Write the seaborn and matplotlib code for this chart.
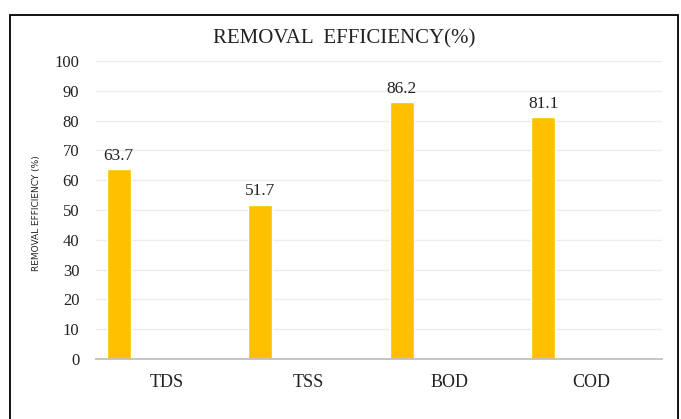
import matplotlib
matplotlib.use("Agg")
import matplotlib.pyplot as plt
from matplotlib.patches import Rectangle
import pandas as pd
import seaborn as sns

PARAMETERS = ["TDS", "TSS", "BOD", "COD"]
EFFICIENCY = [63.7, 51.7, 86.2, 81.1]
Y_TICKS = [0, 10, 20, 30, 40, 50, 60, 70, 80, 90, 100]

BAR_COLOR = "#FFC000"

sns.set_style("white")
plt.rcParams['font.family'] = ['Liberation Serif', 'DejaVu Serif']

df = pd.DataFrame({"parameter": PARAMETERS, "efficiency": EFFICIENCY})

fig = plt.figure(figsize=(6.81, 4.19), dpi=100)
ax = fig.add_axes([96 / 681, 1 - 359 / 419, 566 / 681, 298 / 419])

sns.barplot(data=df, x="parameter", y="efficiency", color=BAR_COLOR,
            width=0.17, saturation=1, ax=ax)

# Excel-style clustered layout: bar sits left of the category centre
for p in ax.patches:
    p.set_x(p.get_x() - 0.34)

for c in ax.containers:
    ax.bar_label(c, fmt="%.1f", padding=4, fontsize=12.5, color="#222222")

ax.set_xlim(-0.5, 3.5)
ax.set_ylim(0, 100)
ax.set_yticks(Y_TICKS)
ax.grid(axis="y", color="#ececec", linewidth=1)
ax.set_axisbelow(True)
for s in ["top", "right", "left"]:
    ax.spines[s].set_visible(False)
ax.spines["bottom"].set_color("#c0c0c0")
ax.spines["bottom"].set_linewidth(1.3)
ax.tick_params(axis="y", length=0, pad=12, labelsize=12, labelcolor="#222222")
ax.tick_params(axis="x", length=0, pad=11, labelsize=13, labelcolor="#222222")
ax.set_xlabel("")
ax.set_ylabel("REMOVAL EFFICIENCY (%)", family=['Liberation Sans Narrow', 'DejaVu Sans'],
              fontsize=6.5, color="#222222")
ax.yaxis.set_label_coords(-0.097, 0.49)

fig.text(344 / 681, 1 - 39 / 419, "REMOVAL  EFFICIENCY(%)", ha="center", va="center",
         fontsize=15, color="#222222")

frame = Rectangle((10 / 681, -0.2), 668 / 681, 1.2 - 15 / 419, transform=fig.transFigure,
                  fill=False, edgecolor="black", linewidth=1.3, clip_on=False)
fig.patches.append(frame)

fig.savefig("out.png", dpi=100)
